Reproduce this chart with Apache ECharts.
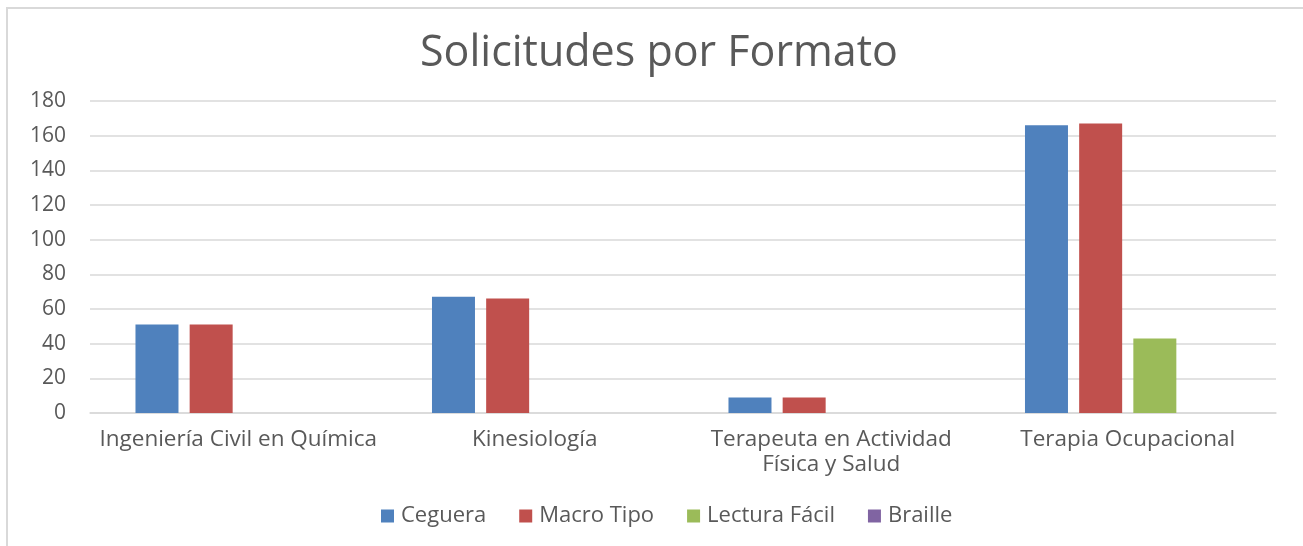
<!DOCTYPE html>
<html>
<head>
<meta charset="utf-8">
<script src="https://cdn.jsdelivr.net/npm/echarts@6/dist/echarts.min.js"></script>
<style>
  html, body { margin: 0; padding: 0; background: #fff; }
  #chart { width: 1303px; height: 546px; }
  #frame { position: absolute; left: 6px; top: 7px; width: 1310px; height: 560px;
           border-left: 2px solid #d9d9d9; border-top: 2px solid #d9d9d9; pointer-events: none; }
</style>
</head>
<body>
<div id="chart"></div>
<div id="frame"></div>
<script>
// carreras
const categories = [
  "Ingeniería Civil en Química",
  "Kinesiología",
  "Terapeuta en Actividad\nFísica y Salud",
  "Terapia Ocupacional"
];
// valores por formato
const ceguera = [51, 67, 9, 166];
const macroTipo = [51, 66, 9, 167];
const lecturaFacil = [0, 0, 0, 43];
const braille = [0, 0, 0, 0];
const yTicks = [0, 20, 40, 60, 80, 100, 120, 140, 160, 180];

const font = "'Open Sans', 'Noto Sans', sans-serif";
let myChart = echarts.init(document.getElementById("chart"));

function serie(name, data, color) {
  return {
    name: name,
    type: "bar",
    data: data,
    barWidth: 43,
    barGap: "26%",
    itemStyle: { color: color },
  };
}

myChart.setOption({
  animation: false,
  title: {
    text: "Solicitudes por Formato",
    left: 415,
    top: 27,
    textStyle: { fontFamily: font, fontSize: 43, fontWeight: "normal", color: "#595959" },
  },
  legend: {
    bottom: 14,
    left: 376,
    itemWidth: 13,
    itemHeight: 13,
    itemGap: 33,
    icon: "rect",
    textStyle: { fontFamily: font, fontSize: 22, color: "#595959", padding: [0, 0, 0, 2] },
    data: ["Ceguera", "Macro Tipo", "Lectura Fácil", "Braille"],
  },
  grid: { left: 90, right: 27, top: 101, bottom: 133, containLabel: false },
  xAxis: {
    type: "category",
    data: categories,
    axisTick: { show: false },
    axisLine: { show: true, lineStyle: { color: "#d9d9d9", width: 1.5 } },
    axisLabel: {
      fontFamily: font,
      fontSize: 22.5,
      color: "#595959",
      margin: 14,
      lineHeight: 25,
      interval: 0,
    },
  },
  yAxis: {
    type: "value",
    min: yTicks[0],
    max: yTicks[yTicks.length - 1],
    interval: yTicks[1] - yTicks[0],
    axisLine: { show: false },
    axisTick: { show: false },
    splitLine: { lineStyle: { color: "#d9d9d9", width: 1.5 } },
    axisLabel: { fontFamily: font, fontSize: 21, color: "#595959", margin: 24 },
  },
  series: [
    serie("Ceguera", ceguera, "#4f81bd"),
    serie("Macro Tipo", macroTipo, "#c0504d"),
    serie("Lectura Fácil", lecturaFacil, "#9bbb59"),
    serie("Braille", braille, "#8064a2"),
  ],
});
</script>
</body>
</html>
